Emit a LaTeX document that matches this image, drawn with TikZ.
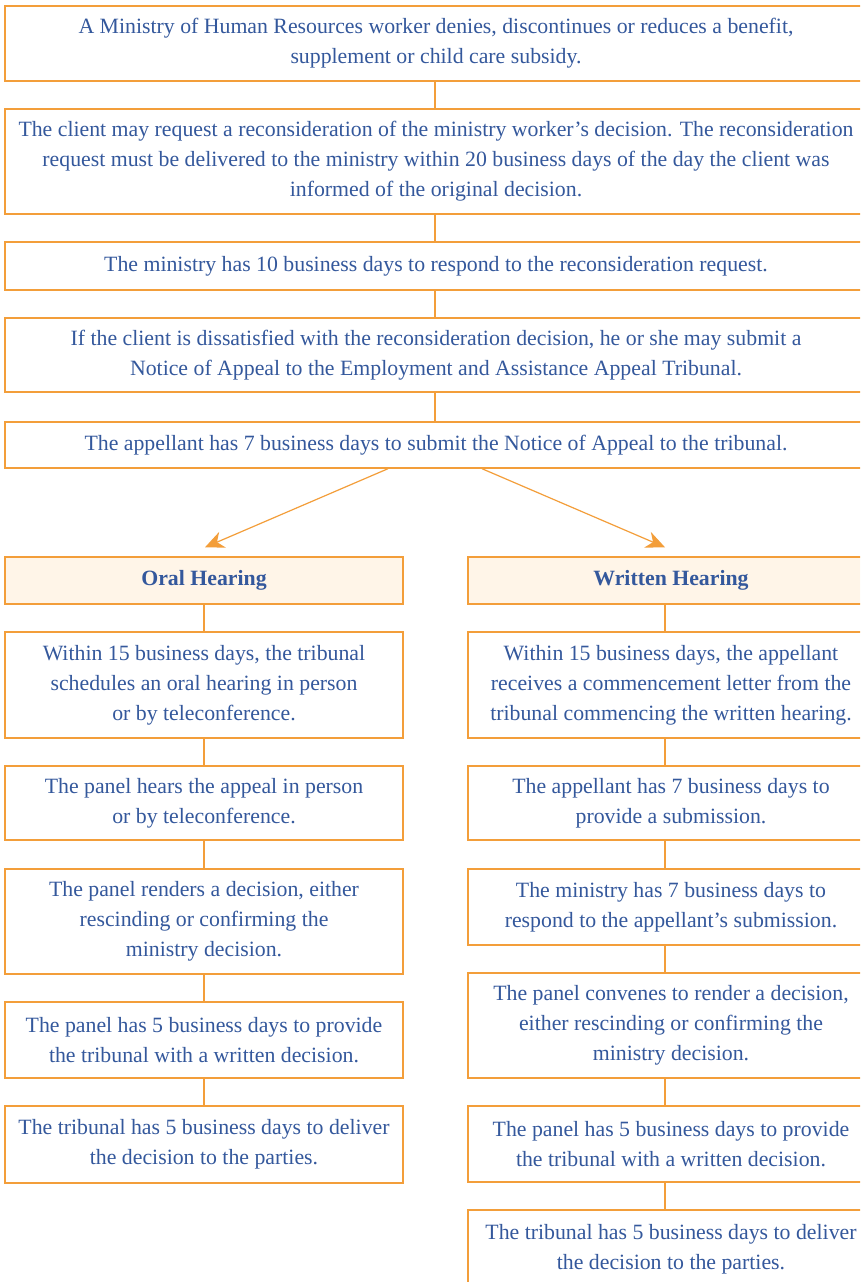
\documentclass[tikz,border=0pt]{standalone}
\usepackage{fontspec}
\setmainfont{Liberation Serif}
\usetikzlibrary{arrows.meta}
\definecolor{org}{RGB}{243,158,58}
\definecolor{txt}{RGB}{52,88,156}
\definecolor{hdr}{RGB}{255,245,232}
\tikzset{
  box/.style={draw=org, line width=1.4pt, fill=white, align=center, text=txt,
    font=\fontsize{21.8}{30}\selectfont, inner sep=0pt},
  hbox/.style={box, fill=hdr, font=\fontsize{21.8}{30}\selectfont\bfseries},
  link/.style={draw=org, line width=1.4pt},
  arr/.style={draw=org, line width=1.2pt, -{Stealth[length=19pt,width=17pt,inset=6pt]}}
}
\begin{document}
\begin{tikzpicture}[x=1pt,y=-1pt]
\useasboundingbox (0,0) rectangle (860,1282);
\clip (0,0) rectangle (860,1282);
\fill[white] (0,0) rectangle (860,1282);
% top column
\node[box, minimum width=862pt, minimum height=75pt] (t1) at (436,43.5) {A Ministry of Human Resources worker denies, discontinues or reduces a benefit,\\ supplement or child care subsidy.};
\node[box, minimum width=862pt, minimum height=105pt] (t2) at (436,161.5) {The client may request a reconsideration of the ministry worker’s decision. The reconsideration\\ request must be delivered to the ministry within 20 business days of the day the client was\\ informed of the original decision.};
\node[box, minimum width=862pt, minimum height=48pt] (t3) at (436,266) {The ministry has 10 business days to respond to the reconsideration request.};
\node[box, minimum width=862pt, minimum height=74pt] (t4) at (436,355) {If the client is dissatisfied with the reconsideration decision, he or she may submit a\\ Notice of Appeal to the Employment and Assistance Appeal Tribunal.};
\node[box, minimum width=862pt, minimum height=46pt] (t5) at (436,445) {The appellant has 7 business days to submit the Notice of Appeal to the tribunal.};
% left column
\node[hbox, minimum width=398pt, minimum height=47pt] (oh) at (204,580.5) {Oral Hearing};
\node[box, minimum width=398pt, minimum height=106pt] (l1) at (204,685) {Within 15 business days, the tribunal\\ schedules an oral hearing in person\\ or by teleconference.};
\node[box, minimum width=398pt, minimum height=74pt] (l2) at (204,803) {The panel hears the appeal in person\\ or by teleconference.};
\node[box, minimum width=398pt, minimum height=105pt] (l3) at (204,921.5) {The panel renders a decision, either\\ rescinding or confirming the\\ ministry decision.};
\node[box, minimum width=398pt, minimum height=76pt] (l4) at (204,1040) {The panel has 5 business days to provide\\ the tribunal with a written decision.};
\node[box, minimum width=398pt, minimum height=77pt] (l5) at (204,1144.5) {The tribunal has 5 business days to deliver\\ the decision to the parties.};
% right column
\node[hbox, minimum width=406pt, minimum height=47pt] (wh) at (671,580.5) {Written Hearing};
\node[box, minimum width=406pt, minimum height=106pt] (r1) at (671,685) {Within 15 business days, the appellant\\ receives a commencement letter from the\\ tribunal commencing the written hearing.};
\node[box, minimum width=406pt, minimum height=74pt] (r2) at (671,803) {The appellant has 7 business days to\\ provide a submission.};
\node[box, minimum width=406pt, minimum height=76pt] (r3) at (671,907) {The ministry has 7 business days to\\ respond to the appellant’s submission.};
\node[box, minimum width=406pt, minimum height=105pt] (r4) at (671,1025.5) {The panel convenes to render a decision,\\ either rescinding or confirming the\\ ministry decision.};
\node[box, minimum width=406pt, minimum height=76pt] (r5) at (671,1144) {The panel has 5 business days to provide\\ the tribunal with a written decision.};
\node[box, minimum width=406pt, minimum height=79pt] (r6) at (671,1249.5) {The tribunal has 5 business days to deliver\\ the decision to the parties.};
% connectors
\foreach \a/\b in {t1/t2,t2/t3,t3/t4,t4/t5}
  \draw[link] (\a.south) ++(-1,0) coordinate (tmp) -- (tmp |- \b.north);
\foreach \a/\b in {oh/l1,l1/l2,l2/l3,l3/l4,l4/l5}
  \draw[link] (\a.south) -- (\b.north);
\foreach \a/\b in {wh/r1,r1/r2,r2/r3,r3/r4,r4/r5,r5/r6}
  \draw[link] (\a.south) ++(-6,0) coordinate (tmp) -- (tmp |- \b.north);
\coordinate (ls) at ([xshift=-48pt]t5.south);
\coordinate (rs) at ([xshift=46pt]t5.south);
\draw[arr] (ls) -- ([xshift=1pt,yshift=9pt]oh.north);
\draw[arr] (rs) -- ([xshift=-6pt,yshift=9pt]wh.north);
\end{tikzpicture}
\end{document}
